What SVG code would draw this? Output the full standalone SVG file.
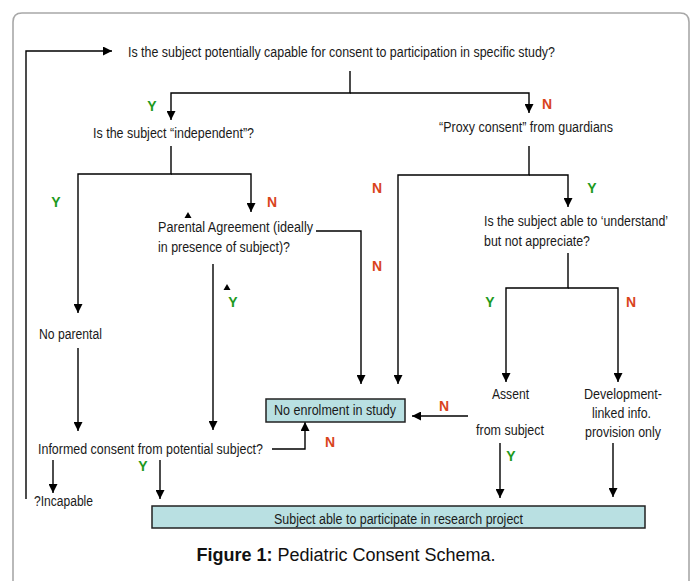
<svg xmlns="http://www.w3.org/2000/svg" width="695" height="581" viewBox="0 0 695 581">
<defs>
<style>
.t{font-family:"Liberation Sans",Arial,sans-serif;font-size:14px;fill:#1a1a1a}
.y{font-family:"Liberation Sans",Arial,sans-serif;font-size:14px;font-weight:bold;fill:#1e9a1e;text-anchor:middle}
.n{font-family:"Liberation Sans",Arial,sans-serif;font-size:14px;font-weight:bold;fill:#d9441c;text-anchor:middle}
.c{fill:none;stroke:#000;stroke-width:1.4}
.box{fill:#b9e0e2;stroke:#222;stroke-width:1.5}
.cap{font-family:"Liberation Sans",Arial,sans-serif;font-size:18px;fill:#111;text-anchor:middle}
</style>
<marker id="ah" markerUnits="userSpaceOnUse" markerWidth="9" markerHeight="9" refX="9" refY="4.5" orient="auto" viewBox="0 0 9 9">
<path d="M0,0 L9,4.5 L0,9 z" fill="#000"/>
</marker>
</defs>
<rect width="695" height="581" fill="#fff"/>
<path d="M13,581 V22 Q13,13 22,13 H680 Q689,13 689,22 V581" fill="none" stroke="#a8a8a8" stroke-width="1.6"/>

<g id="connectors">
<path class="c" d="M26,499 V51 H112" marker-end="url(#ah)"/>
<path class="c" d="M350,71 V93 H171 V120" marker-end="url(#ah)"/>
<path class="c" d="M350,93 H529 V113" marker-end="url(#ah)"/>
<path class="c" d="M171,146 V174 H78 V313" marker-end="url(#ah)"/>
<path class="c" d="M171,174 H251 V212" marker-end="url(#ah)"/>
<path class="c" d="M316,231 H361 V384" marker-end="url(#ah)"/>
<path class="c" d="M213,264 V430" marker-end="url(#ah)"/>
<path class="c" d="M78,348 V431" marker-end="url(#ah)"/>
<path class="c" d="M529,146 V175 H398 V384" marker-end="url(#ah)"/>
<path class="c" d="M529,175 H568 V207" marker-end="url(#ah)"/>
<path class="c" d="M568,253 V288 H506 V382" marker-end="url(#ah)"/>
<path class="c" d="M568,288 H618 V382" marker-end="url(#ah)"/>
<path class="c" d="M468,416 H412" marker-end="url(#ah)"/>
<path class="c" d="M272,449 H305 V422" marker-end="url(#ah)"/>
<path class="c" d="M53,460 V493" marker-end="url(#ah)"/>
<path class="c" d="M160,460 V499" marker-end="url(#ah)"/>
<path class="c" d="M500,443 V498" marker-end="url(#ah)"/>
<path class="c" d="M613,443 V497" marker-end="url(#ah)"/>
<polygon points="188,212 184.5,218 191.5,218" fill="#000"/>
<polygon points="227,284 223.5,290 230.5,290" fill="#000"/>
</g>

<g id="q-capable"><text class="t" x="128" y="57" textLength="427" lengthAdjust="spacingAndGlyphs">Is the subject potentially capable for consent to participation in specific study?</text></g>
<g id="q-independent"><text class="t" x="93" y="138" textLength="161" lengthAdjust="spacingAndGlyphs">Is the subject “independent”?</text></g>
<g id="proxy"><text class="t" x="439" y="132" textLength="174" lengthAdjust="spacingAndGlyphs">“Proxy consent” from guardians</text></g>
<g id="parental-agreement">
<text class="t" x="158" y="232" textLength="155" lengthAdjust="spacingAndGlyphs">Parental Agreement (ideally</text>
<text class="t" x="158" y="252" textLength="132" lengthAdjust="spacingAndGlyphs">in presence of subject)?</text>
</g>
<g id="q-understand">
<text class="t" x="484" y="226" textLength="184" lengthAdjust="spacingAndGlyphs">Is the subject able to ‘understand’</text>
<text class="t" x="484" y="246" textLength="106" lengthAdjust="spacingAndGlyphs">but not appreciate?</text>
</g>
<g id="no-parental"><text class="t" x="39" y="339" textLength="63" lengthAdjust="spacingAndGlyphs">No parental</text></g>
<g id="informed-consent"><text class="t" x="38" y="454" textLength="225" lengthAdjust="spacingAndGlyphs">Informed consent from potential subject?</text></g>
<g id="incapable"><text class="t" x="34" y="506" textLength="59" lengthAdjust="spacingAndGlyphs">?Incapable</text></g>
<g id="no-enrolment">
<rect class="box" x="266" y="399" width="139" height="23"/>
<text class="t" x="274" y="415" textLength="122" lengthAdjust="spacingAndGlyphs">No enrolment in study</text>
</g>
<g id="assent">
<text class="t" x="492" y="399" textLength="37" lengthAdjust="spacingAndGlyphs">Assent</text>
<text class="t" x="476" y="435" textLength="68" lengthAdjust="spacingAndGlyphs">from subject</text>
</g>
<g id="development">
<text class="t" x="584" y="399" textLength="78" lengthAdjust="spacingAndGlyphs">Development-</text>
<text class="t" x="592" y="418" textLength="59" lengthAdjust="spacingAndGlyphs">linked info.</text>
<text class="t" x="585" y="437" textLength="76" lengthAdjust="spacingAndGlyphs">provision only</text>
</g>
<g id="participate">
<rect class="box" x="152" y="506" width="493" height="22"/>
<text class="t" x="274" y="524" textLength="249" lengthAdjust="spacingAndGlyphs">Subject able to participate in research project</text>
</g>

<g id="labels">
<text class="y" x="152" y="111">Y</text>
<text class="y" x="56" y="207">Y</text>
<text class="y" x="233" y="307">Y</text>
<text class="y" x="592" y="193">Y</text>
<text class="y" x="490" y="307">Y</text>
<text class="y" x="143" y="471">Y</text>
<text class="y" x="511" y="461">Y</text>
<text class="n" x="547" y="109">N</text>
<text class="n" x="272" y="207">N</text>
<text class="n" x="377" y="193">N</text>
<text class="n" x="377" y="271">N</text>
<text class="n" x="631" y="307">N</text>
<text class="n" x="444" y="411">N</text>
<text class="n" x="330" y="447">N</text>
</g>

<g id="caption"><text class="cap" x="346" y="561"><tspan font-weight="bold">Figure 1:</tspan> Pediatric Consent Schema.</text></g>
</svg>
